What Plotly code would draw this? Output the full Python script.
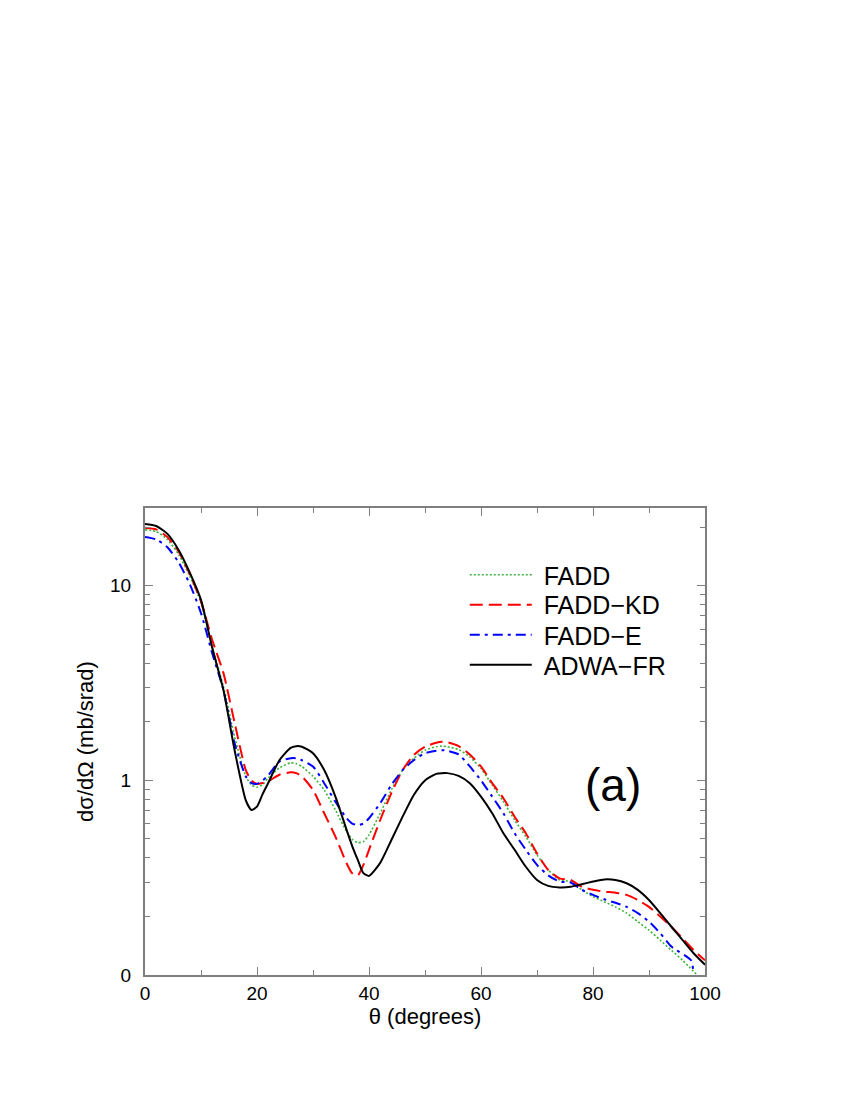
import plotly.graph_objects as go

# ---- data (angles in degrees, cross sections in mb/srad) ----
theta = [0, 2, 4, 6, 8, 10, 12, 14, 16, 18, 19, 20, 21, 22, 24, 26, 27, 28, 30, 32, 34, 36,
         37, 38, 39, 40, 42, 44, 46, 48, 50, 52, 53, 54, 56, 58, 60, 62, 64, 66, 68, 70, 72,
         74, 76, 78, 80, 82, 84, 86, 88, 90, 92, 94, 96, 98, 100]

adwa_fr = [20.8, 20.3, 18.5, 15.3, 11.7, 8.47, 4.8, 2.92, 1.43, 0.79, 0.705, 0.733, 0.85, 0.97,
           1.27, 1.47, 1.50, 1.49, 1.38, 1.13, 0.826, 0.557, 0.46, 0.39, 0.334, 0.323, 0.377,
           0.494, 0.651, 0.842, 1.0, 1.08, 1.09, 1.09, 1.055, 0.968, 0.826, 0.678, 0.535, 0.44,
           0.36, 0.308, 0.287, 0.282, 0.284, 0.293, 0.302, 0.31, 0.308, 0.296, 0.274, 0.243,
           0.208, 0.177, 0.151, 0.129, 0.113]

fadd_kd = [19.9, 19.5, 17.8, 15.0, 11.5, 8.3, 5.27, 3.57, 1.98, 1.13, 1.0, 0.96, 0.97, 0.99,
           1.07, 1.10, 1.09, 1.05, 0.894, 0.678, 0.514, 0.375, 0.333, 0.325, 0.368, 0.44, 0.626,
           0.86, 1.13, 1.35, 1.49, 1.56, 1.58, 1.57, 1.50, 1.36, 1.18, 0.968, 0.81, 0.651, 0.535,
           0.422, 0.347, 0.314, 0.308, 0.284, 0.274, 0.268, 0.265, 0.258, 0.243, 0.224, 0.2,
           0.177, 0.154, 0.134, 0.119]

theta_fadd = theta[:-2] + [98.6]
fadd = [19.4, 19.0, 17.3, 14.5, 11.2, 8.2, 4.87, 3.04, 1.68, 1.05, 0.948, 0.923, 0.95, 1.03,
        1.16, 1.23, 1.22, 1.18, 1.05, 0.894, 0.705, 0.545, 0.498, 0.479, 0.485, 0.525, 0.678,
        0.894, 1.13, 1.30, 1.43, 1.49, 1.50, 1.49, 1.44, 1.32, 1.15, 0.948, 0.778, 0.626, 0.514,
        0.414, 0.347, 0.308, 0.302, 0.274, 0.253, 0.238, 0.224, 0.208, 0.188, 0.17, 0.151,
        0.134, 0.119, 0.1]

theta_e = theta[:-3] + [97.5, 97.9]
fadd_e = [17.8, 17.3, 15.8, 13.2, 10.2, 7.24, 4.5, 2.92, 1.55, 1.05, 0.97, 0.96, 1.0, 1.06,
          1.25, 1.30, 1.30, 1.27, 1.18, 0.968, 0.778, 0.639, 0.60, 0.59, 0.60, 0.639, 0.764,
          0.948, 1.13, 1.27, 1.38, 1.42, 1.43, 1.42, 1.36, 1.18, 1.0, 0.826, 0.678, 0.535, 0.44,
          0.368, 0.325, 0.302, 0.299, 0.274, 0.258, 0.245, 0.235, 0.224, 0.208, 0.188, 0.164,
          0.14, 0.119, 0.105, 0.1]

x_ticks = [0, 20, 40, 60, 80, 100]
x_minor = [10, 30, 50, 70, 90]
y_ticks = [0.1, 1, 10]
y_ticktext = ["0", "1", "10"]
y_minor = [0.2, 0.3, 0.4, 0.5, 0.6, 0.7, 0.8, 0.9, 2, 3, 4, 5, 6, 7, 8, 9, 20]

FONT = "Liberation Sans, Arial, Helvetica, sans-serif"
GREY = "#7f7f7f"
NB = "\u00a0"

fig = go.Figure()
fig.add_trace(go.Scatter(x=theta_fadd, y=fadd, mode="lines", name=NB + "FADD", legend="legend",
                         line=dict(color="#3cb33c", width=1.6, dash="2px,2px", shape="spline", smoothing=0.6)))
fig.add_trace(go.Scatter(x=theta, y=fadd_kd, mode="lines", name=NB + "FADD\u2212KD", legend="legend2",
                         line=dict(color="#ff0000", width=2, dash="13px,6px", shape="spline", smoothing=0.6)))
fig.add_trace(go.Scatter(x=theta_e, y=fadd_e, mode="lines", name=NB + "FADD\u2212E", legend="legend3",
                         line=dict(color="#0000ff", width=2, dash="10px,5px,3px,5px", shape="spline", smoothing=0.6)))
fig.add_trace(go.Scatter(x=theta, y=adwa_fr, mode="lines", name=NB + "ADWA\u2212FR", legend="legend4",
                         line=dict(color="#000000", width=2, shape="spline", smoothing=0.6)))

fig.add_annotation(x=0.836, y=0.407, xref="paper", yref="paper", text="(a)", showarrow=False,
                   xanchor="center", yanchor="middle",
                   font=dict(family=FONT, size=46, color="black"))

leg_common = dict(x=0.571, xanchor="left", yanchor="middle", bgcolor="rgba(0,0,0,0)",
                  font=dict(family=FONT, size=25), itemwidth=62)

fig.update_layout(
    width=850, height=1100,
    margin=dict(l=137, r=153, t=500, b=133),
    paper_bgcolor="white", plot_bgcolor="white",
    font=dict(family=FONT, color="black"),
    showlegend=True,
    legend=dict(y=0.8565, **leg_common),
    legend2=dict(y=0.7923, **leg_common),
    legend3=dict(y=0.728, **leg_common),
    legend4=dict(y=0.6638, **leg_common),
    xaxis=dict(range=[0, 100], tickvals=x_ticks, ticks="inside", ticklen=8, tickwidth=1,
               tickcolor=GREY, showline=True, linecolor=GREY, linewidth=2, mirror="ticks",
               showgrid=False, zeroline=False,
               tickfont=dict(family=FONT, size=19),
               minor=dict(tickvals=x_minor, ticks="inside", ticklen=5, tickcolor=GREY),
               title=dict(text="\u03b8 (degrees)", font=dict(family=FONT, size=22), standoff=2)),
    yaxis=dict(type="log", range=[-1, 1.4], tickvals=y_ticks, ticktext=y_ticktext,
               ticks="inside", ticklen=8, tickwidth=1, tickcolor=GREY, showline=True,
               linecolor=GREY, linewidth=2, mirror="ticks", showgrid=False, zeroline=False,
               tickfont=dict(family=FONT, size=19), ticklabelstandoff=8,
               minor=dict(tickvals=y_minor, ticks="inside", ticklen=5, tickcolor=GREY),
               title=dict(text="d\u03c3/d\u03a9 (mb/srad)", font=dict(family=FONT, size=22), standoff=10)),
)

fig.write_html("out.html")
